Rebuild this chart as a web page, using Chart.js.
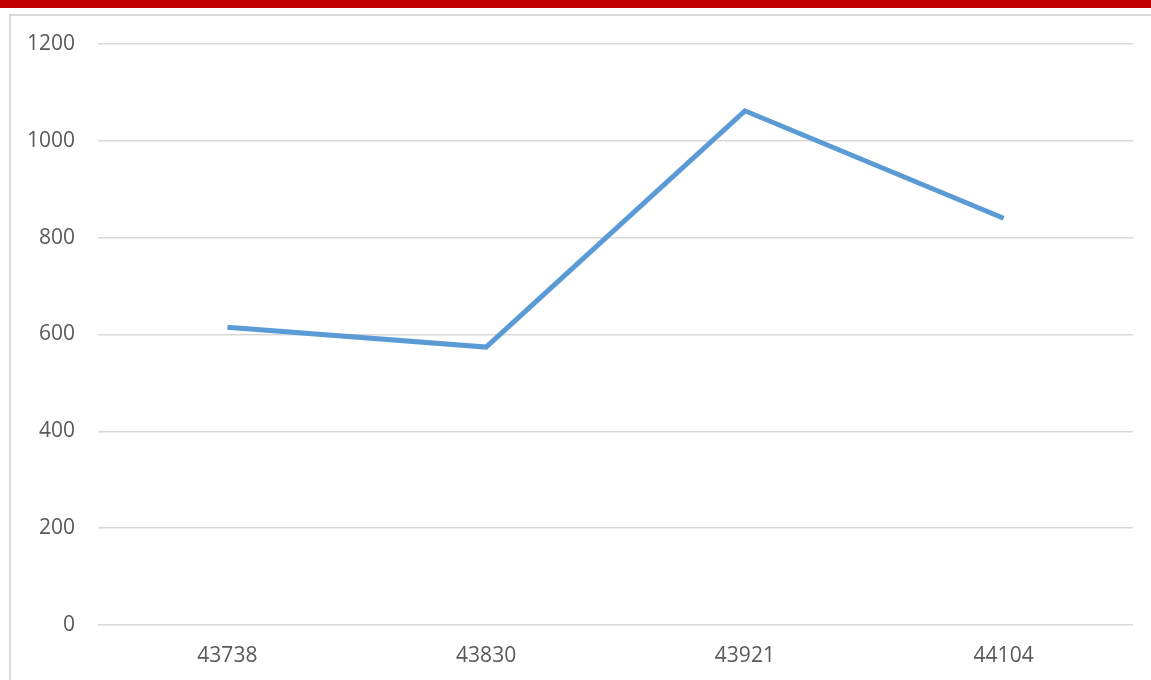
<!DOCTYPE html>
<html>
<head>
<meta charset="utf-8">
<script src="https://cdn.jsdelivr.net/npm/chart.js@4/dist/chart.umd.min.js"></script>
<style>
  html, body { margin: 0; padding: 0; background: #fff; overflow: hidden; }
  #topBar { position: absolute; left: 0; top: 0; width: 1151px; height: 8px; background: #c00000; }
  #frame { position: absolute; left: 9px; top: 14px; width: 1200px; height: 700px;
           border-left: 2px solid #d9d9d9; border-top: 2px solid #d9d9d9; }
  #wrap { position: absolute; left: 0; top: 0; width: 1151px; height: 680px; }
</style>
</head>
<body>
<div id="topBar"></div>
<div id="frame"></div>
<div id="wrap"><canvas id="lineChart"></canvas></div>
<script>
// Data
const categories = ["43738", "43830", "43921", "44104"];
const values = [615, 574, 1062, 840];
const yTicks = [0, 200, 400, 600, 800, 1000, 1200];

const ctx = document.getElementById("lineChart").getContext("2d");
new Chart(ctx, {
    type: "line",
    data: {
        labels: categories,
        datasets: [
            {
                data: values,
                borderColor: "#5b9bd5",
                borderWidth: 5,
                pointRadius: 0,
                tension: 0,
                fill: false,
            },
        ],
    },
    options: {
        responsive: true,
        maintainAspectRatio: false,
        animation: false,
        layout: { padding: { top: 44, right: 18, left: 0, bottom: 0 } },
        plugins: { legend: { display: false }, tooltip: { enabled: false } },
        scales: {
            x: {
                offset: true,
                grid: { display: false, drawTicks: false },
                border: { display: false },
                ticks: {
                    color: "#595959",
                    font: { family: "Open Sans", size: 21 },
                    padding: 18,
                    maxRotation: 0,
                },
                afterFit: (scale) => { scale.height = 55; },
            },
            y: {
                min: 0,
                max: 1200,
                afterBuildTicks: (scale) => { scale.ticks = yTicks.map((v) => ({ value: v })); },
                grid: { color: "#d9d9d9", lineWidth: 1.5, drawTicks: false },
                border: { display: false },
                ticks: {
                    color: "#595959",
                    font: { family: "Open Sans", size: 21 },
                    padding: 23,
                    callback: (v) => String(v),
                },
                afterFit: (scale) => { scale.width = 98; },
            },
        },
    },
});
</script>
</body>
</html>
